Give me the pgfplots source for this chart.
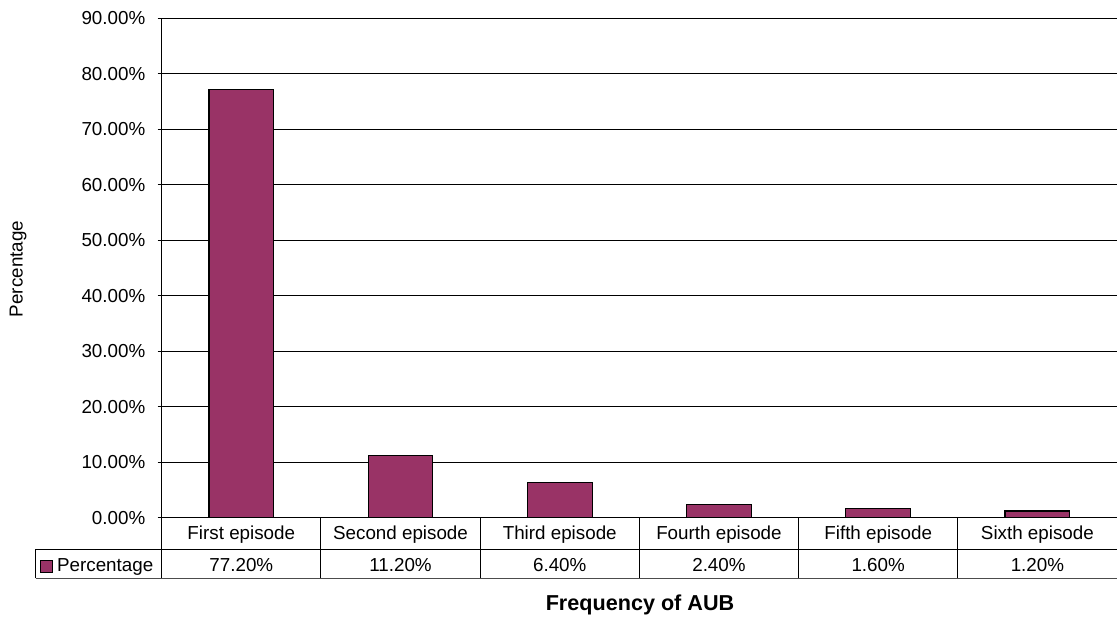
\documentclass[border=0pt]{standalone}
\usepackage{fontspec}
\setmainfont{Liberation Sans}
\usepackage{pgfplots}
\usepackage{pgfplotstable}
\pgfplotsset{compat=1.18}
\definecolor{plum}{HTML}{993366}

% Share of AUB cases by episode number
\pgfplotstableread[col sep=comma]{
idx,name,value
0,First episode,77.2
1,Second episode,11.2
2,Third episode,6.4
3,Fourth episode,2.4
4,Fifth episode,1.6
5,Sixth episode,1.2
}\aubdata

\begin{document}
\begin{tikzpicture}[font=\fontsize{9.4}{11.3}\selectfont]
\useasboundingbox (0,0) rectangle (558.5pt,308.5pt);
\begin{axis}[
  at={(80.85pt,49.65pt)}, anchor=south west,
  scale only axis, width=477.65pt, height=249.7pt,
  xmin=-0.5, xmax=5.5, ymin=0, ymax=90,
  axis lines*=left,
  axis line style={black, line width=0.6pt},
  clip=false,
  /pgf/number format/assume math mode=true,
  ytick={0,10,...,90},
  ymajorgrids,
  grid style={black, line width=0.5pt},
  tick align=outside,
  major tick length=2pt,
  ytick style={black, line width=0.5pt},
  yticklabel={\pgfmathprintnumber[fixed,fixed zerofill,precision=2]{\tick}\%},
  yticklabel style={anchor=east, inner sep=0pt, xshift=-6pt},
  xtick={0,...,5},
  xtick style={draw=none},
  % category name on the first row, its value on the second
  xticklabel={\pgfplotstablegetelem{\ticknum}{name}\of\aubdata\pgfplotsretval\\[4.55pt]%
    \pgfplotstablegetelem{\ticknum}{value}\of\aubdata
    \pgfmathprintnumber[fixed,fixed zerofill,precision=2]{\pgfplotsretval}\%},
  xticklabel style={align=center, anchor=base, inner sep=0pt, yshift=-24.9pt},
]
\addplot[ybar, bar width=32.35pt, fill=plum, draw=black, line width=0.6pt]
  table[x=idx, y=value] {\aubdata};
% separators of the data table under the categories
\pgfplotsinvokeforeach{-0.5,0.5,1.5,2.5,3.5,4.5}{
  \draw[black, line width=0.5pt] (axis cs:#1,0) -- ++(0pt,-30.3pt);
}
\end{axis}
% data table rows
\draw[black, line width=0.5pt] (17.85pt,33.85pt) -- (558.5pt,33.85pt);
\draw[black!70, line width=0.7pt] (17.85pt,19.35pt) -- (558.5pt,19.35pt);
\draw[black, line width=0.5pt] (17.85pt,19.35pt) -- (17.85pt,33.85pt);
\draw[fill=plum, draw=black, line width=0.5pt] (20pt,22.15pt) rectangle ++(6pt,6pt);
\node[anchor=base west, inner sep=0pt] at (28.35pt,22.65pt) {Percentage};
% axis titles
\node[rotate=90, inner sep=0pt] at (9pt,174pt) {Percentage};
\node[anchor=base, inner sep=0pt, font=\fontsize{10.8}{13}\selectfont\bfseries] at (320pt,3.15pt) {Frequency of AUB};
\end{tikzpicture}
\end{document}
